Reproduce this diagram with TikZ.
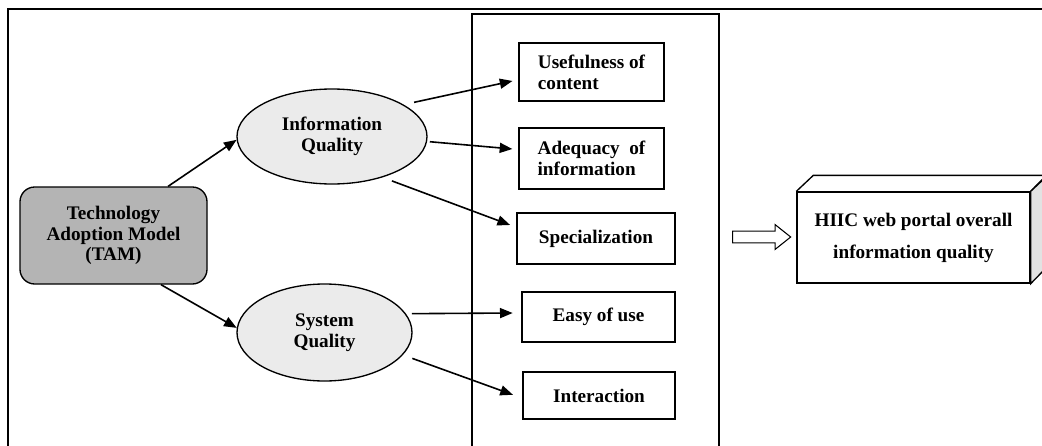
\documentclass[tikz,border=0pt]{standalone}
\usepackage{fontspec}
\setmainfont{Liberation Serif}
\usepackage{xcolor}
\usetikzlibrary{shapes.geometric,shapes.arrows,arrows.meta}
\definecolor{CTam}{HTML}{B4B4B4}
\definecolor{COval}{HTML}{EBEBEB}
\definecolor{CSide}{HTML}{E2E2E2}

\begin{document}
\begin{tikzpicture}[x=0.75pt, y=-0.75pt,
  txt/.style={font=\bfseries\fontsize{14.4}{15.5}\selectfont, inner sep=0pt},
  tambox/.style={txt, draw, fill=CTam, rounded corners=11pt, line width=1pt, align=center},
  oval/.style={txt, ellipse, draw, fill=COval, line width=1pt, align=center},
  factor/.style={txt, draw, fill=white, line width=1pt},
  link/.style={line width=1.2pt, -{Triangle[length=9.5pt,width=7.5pt]}}]
\clip (0,0) rectangle (1042,446);
\fill[white] (0,0) rectangle (1042,446);
\draw[line width=1pt] (8,9) rectangle (1060,470);
\draw[line width=1pt] (472,14) rectangle (719,470);

\node[tambox, minimum width=140.25pt, minimum height=72.75pt] (tam) at (113.5,235.5) {Technology\\Adoption Model\\(TAM)};
\node[oval, minimum width=142.5pt, minimum height=71.25pt] (info) at (332,136.5) {Information\\Quality};
\node[oval, minimum width=131.25pt, minimum height=72.75pt] (sys) at (324.5,332.5) {System\\Quality};

\node[factor, align=left, minimum width=108.75pt, minimum height=43.5pt] (usef) at (591.5,72) {Usefulness of\\content};
\node[factor, align=left, minimum width=108.75pt, minimum height=45.75pt] (adeq) at (591.5,158.5) {Adequacy\ \ of\\information};
\node[factor, minimum width=118.5pt, minimum height=38.25pt] (spec) at (596,238.5) {Specialization};
\node[factor, minimum width=114.75pt, minimum height=37.5pt] (easy) at (598.5,317) {Easy of use};
\node[factor, minimum width=114pt, minimum height=35.25pt] (inter) at (599,395.5) {Interaction};

\node[txt, draw, fill=white, line width=1pt, align=center, font=\bfseries\fontsize{14.4}{24}\selectfont, minimum width=174.75pt, minimum height=68.25pt] (hiic) at (913.5,237.5) {HIIC web portal overall\\information quality};
\draw[line width=1pt] (hiic.north west) -- ++(17,-16) -- ++(233,0) -- (hiic.north east);
\filldraw[fill=CSide, line width=1pt] (hiic.north east) -- ++(17,-16) -- ++(0,91) -- (hiic.south east) -- cycle;

\node[single arrow, draw, line width=0.8pt, inner sep=4pt, minimum height=43.5pt, single arrow head extend=4.9pt, single arrow tip angle=77] (flow) at (758,237) {};

\draw[link] (tam.42) -- (info.182);
\draw[link] (tam.-46) -- (sys.177);
\draw[link, shorten <=8pt, shorten >=4.5pt] (info.24) -- (usef.186);
\draw[link, shorten <=2pt, shorten >=4.5pt] (info.-3) -- (adeq.173);
\draw[link, shorten <=7.5pt, shorten >=5pt] (info.-39) -- (spec.172);
\draw[link, shorten <=4.5pt, shorten >=6.5pt] (sys.13) -- (easy.177);
\draw[link, shorten <=7.5pt, shorten >=7.5pt] (sys.-16) -- (inter.182);
\end{tikzpicture}
\end{document}
